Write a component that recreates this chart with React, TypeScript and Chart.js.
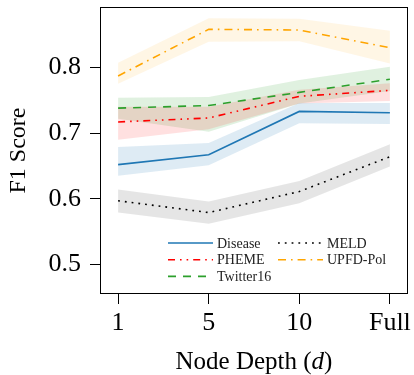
import React, { useEffect, useRef } from "react";
import { Chart, registerables } from "chart.js";

Chart.register(...registerables);

const xLabels = ["1", "5", "10", "Full"];
const xPositions = [0, 1, 2, 3];
const yTicks = [0.5, 0.6, 0.7, 0.8];

const diseaseMean = [0.652, 0.667, 0.733, 0.731];
const diseaseUpper = [0.679, 0.685, 0.746, 0.746];
const diseaseLower = [0.635, 0.651, 0.715, 0.714];

const phemeMean = [0.717, 0.723, 0.756, 0.765];
const phemeUpper = [0.740, 0.740, 0.766, 0.776];
const phemeLower = [0.690, 0.706, 0.745, 0.749];

const twitterMean = [0.738, 0.742, 0.762, 0.782];
const twitterUpper = [0.754, 0.755, 0.781, 0.801];
const twitterLower = [0.722, 0.702, 0.745, 0.764];

const meldMean = [0.597, 0.579, 0.611, 0.664];
const meldUpper = [0.614, 0.596, 0.627, 0.683];
const meldLower = [0.579, 0.562, 0.593, 0.649];

const upfdMean = [0.787, 0.858, 0.857, 0.830];
const upfdUpper = [0.807, 0.875, 0.874, 0.856];
const upfdLower = [0.775, 0.839, 0.840, 0.806];

const SERIF = "'Liberation Serif', 'Times New Roman', serif";

type Series = {
  name: string;
  mean: number[];
  upper: number[];
  lower: number[];
  color: string;
  band: string;
  dash: number[];
};

const series: Series[] = [
  { name: "Disease", mean: diseaseMean, upper: diseaseUpper, lower: diseaseLower, color: "#1f77b4", band: "rgba(31,119,180,0.15)", dash: [] },
  { name: "PHEME", mean: phemeMean, upper: phemeUpper, lower: phemeLower, color: "#ff0000", band: "rgba(255,0,0,0.12)", dash: [7, 5, 1.6, 5, 1.6, 5] },
  { name: "Twitter16", mean: twitterMean, upper: twitterUpper, lower: twitterLower, color: "#2ca02c", band: "rgba(44,160,44,0.15)", dash: [8, 7] },
  { name: "MELD", mean: meldMean, upper: meldUpper, lower: meldLower, color: "#000000", band: "rgba(0,0,0,0.1)", dash: [1.8, 5] },
  { name: "UPFD-Pol", mean: upfdMean, upper: upfdUpper, lower: upfdLower, color: "#ffa500", band: "rgba(255,165,0,0.1)", dash: [8, 5, 1.6, 5] },
];

const legendLayout = [
  { col: 0, row: 0 },
  { col: 0, row: 1 },
  { col: 0, row: 2 },
  { col: 1, row: 0 },
  { col: 1, row: 1 },
];

const pts = (arr: number[]) => arr.map((v, i) => ({ x: xPositions[i], y: v }));

const framePlugin = {
  id: "frame",
  afterDatasetsDraw(chart: any) {
    const { ctx, chartArea: a } = chart;
    ctx.save();
    ctx.strokeStyle = "#000";
    ctx.lineWidth = 1;
    ctx.strokeRect(Math.round(a.left) + 0.5, Math.round(a.top) + 0.5, Math.round(a.right - a.left) - 1, Math.round(a.bottom - a.top) - 1);
    ctx.restore();
  },
};

const xTitlePlugin = {
  id: "xTitle",
  afterDraw(chart: any) {
    const { ctx, chartArea: a } = chart;
    const parts = [
      { t: "Node Depth (", f: `25px ${SERIF}` },
      { t: "d", f: `italic 25px ${SERIF}` },
      { t: ")", f: `25px ${SERIF}` },
    ];
    ctx.save();
    ctx.fillStyle = "#000";
    ctx.textBaseline = "alphabetic";
    ctx.textAlign = "left";
    let total = 0;
    const widths = parts.map((p) => {
      ctx.font = p.f;
      const w = ctx.measureText(p.t).width;
      total += w;
      return w;
    });
    let x = (a.left + a.right) / 2 - total / 2;
    const y = chart.height - 6;
    parts.forEach((p, i) => {
      ctx.font = p.f;
      ctx.fillText(p.t, x, y);
      x += widths[i];
    });
    ctx.restore();
  },
};

const legendPlugin = {
  id: "customLegend",
  afterDraw(chart: any) {
    const { ctx, chartArea: a } = chart;
    const x0 = a.left + 68;
    const colW = 110;
    const y0 = a.bottom - 51;
    const rowH = 16.7;
    const lineLen = 45;
    ctx.save();
    ctx.font = `14px ${SERIF}`;
    ctx.textBaseline = "middle";
    ctx.textAlign = "left";
    series.forEach((s, i) => {
      const { col, row } = legendLayout[i];
      const x = x0 + col * colW;
      const y = y0 + row * rowH;
      ctx.strokeStyle = s.color;
      ctx.lineWidth = 1.6;
      ctx.setLineDash(s.dash);
      ctx.beginPath();
      ctx.moveTo(x, y);
      ctx.lineTo(x + lineLen, y);
      ctx.stroke();
      ctx.setLineDash([]);
      ctx.fillStyle = "#222";
      ctx.fillText(s.name, x + lineLen + 4, y + 1);
    });
    ctx.restore();
  },
};

export default function App() {
  const ref = useRef<HTMLCanvasElement | null>(null);

  useEffect(() => {
    if (!ref.current) return;
    const datasets: any[] = [];
    series.forEach((s) => {
      datasets.push({
        label: s.name + " upper",
        data: pts(s.upper),
        borderWidth: 0,
        pointRadius: 0,
        fill: "+1",
        backgroundColor: s.band,
        borderColor: "rgba(0,0,0,0)",
        tension: 0,
        order: 10,
      });
      datasets.push({
        label: s.name + " lower",
        data: pts(s.lower),
        borderWidth: 0,
        pointRadius: 0,
        fill: false,
        borderColor: "rgba(0,0,0,0)",
        tension: 0,
        order: 10,
      });
    });
    series.forEach((s) => {
      datasets.push({
        label: s.name,
        data: pts(s.mean),
        borderColor: s.color,
        borderWidth: 1.6,
        borderDash: s.dash,
        pointRadius: 0,
        fill: false,
        tension: 0,
        order: 1,
      });
    });

    const chart = new Chart(ref.current, {
      type: "line",
      data: { datasets },
      options: {
        animation: false,
        responsive: false,
        maintainAspectRatio: false,
        layout: { padding: { top: 7, right: 6, left: 0, bottom: 0 } },
        plugins: {
          legend: { display: false },
          tooltip: { enabled: false },
          filler: { propagate: false },
        },
        scales: {
          x: {
            type: "linear",
            min: -0.2,
            max: 3.2,
            afterBuildTicks: (s: any) => {
              s.ticks = xPositions.map((v) => ({ value: v }));
            },
            afterFit: (s: any) => {
              s.height = 81;
              s.paddingLeft = 0;
              s.paddingRight = 0;
            },
            border: { display: false },
            grid: { display: true, drawOnChartArea: false, drawTicks: true, tickLength: 10, tickColor: "#000", tickWidth: 1 },
            ticks: {
              color: "#000",
              padding: 4,
              autoSkip: false,
              maxRotation: 0,
              font: { family: SERIF, size: 26 },
              callback: (v: any) => xLabels[xPositions.indexOf(Number(v))] ?? "",
            },
            title: { display: false },
          },
          y: {
            type: "linear",
            min: 0.455,
            max: 0.892,
            afterBuildTicks: (s: any) => {
              s.ticks = yTicks.map((v) => ({ value: v }));
            },
            afterFit: (s: any) => {
              s.width = 100;
              s.paddingTop = 0;
              s.paddingBottom = 0;
            },
            border: { display: false },
            grid: { display: true, drawOnChartArea: false, drawTicks: true, tickLength: 10, tickColor: "#000", tickWidth: 1 },
            ticks: {
              color: "#000",
              padding: 9,
              font: { family: SERIF, size: 26 },
              callback: (v: any) => Number(v).toFixed(1),
            },
            title: {
              display: true,
              text: "F1 Score",
              color: "#000",
              font: { family: SERIF, size: 24, lineHeight: 1 },
              padding: { top: 7, bottom: 0 },
            },
          },
        },
      },
      plugins: [framePlugin, legendPlugin, xTitlePlugin],
    });
    return () => chart.destroy();
  }, []);

  return (
    <div style={{ position: "fixed", left: 0, top: 0, width: 414, height: 375, background: "#fff" }}>
      <canvas ref={ref} width={414} height={375} style={{ width: 414, height: 375, display: "block" }} />
    </div>
  );
}
